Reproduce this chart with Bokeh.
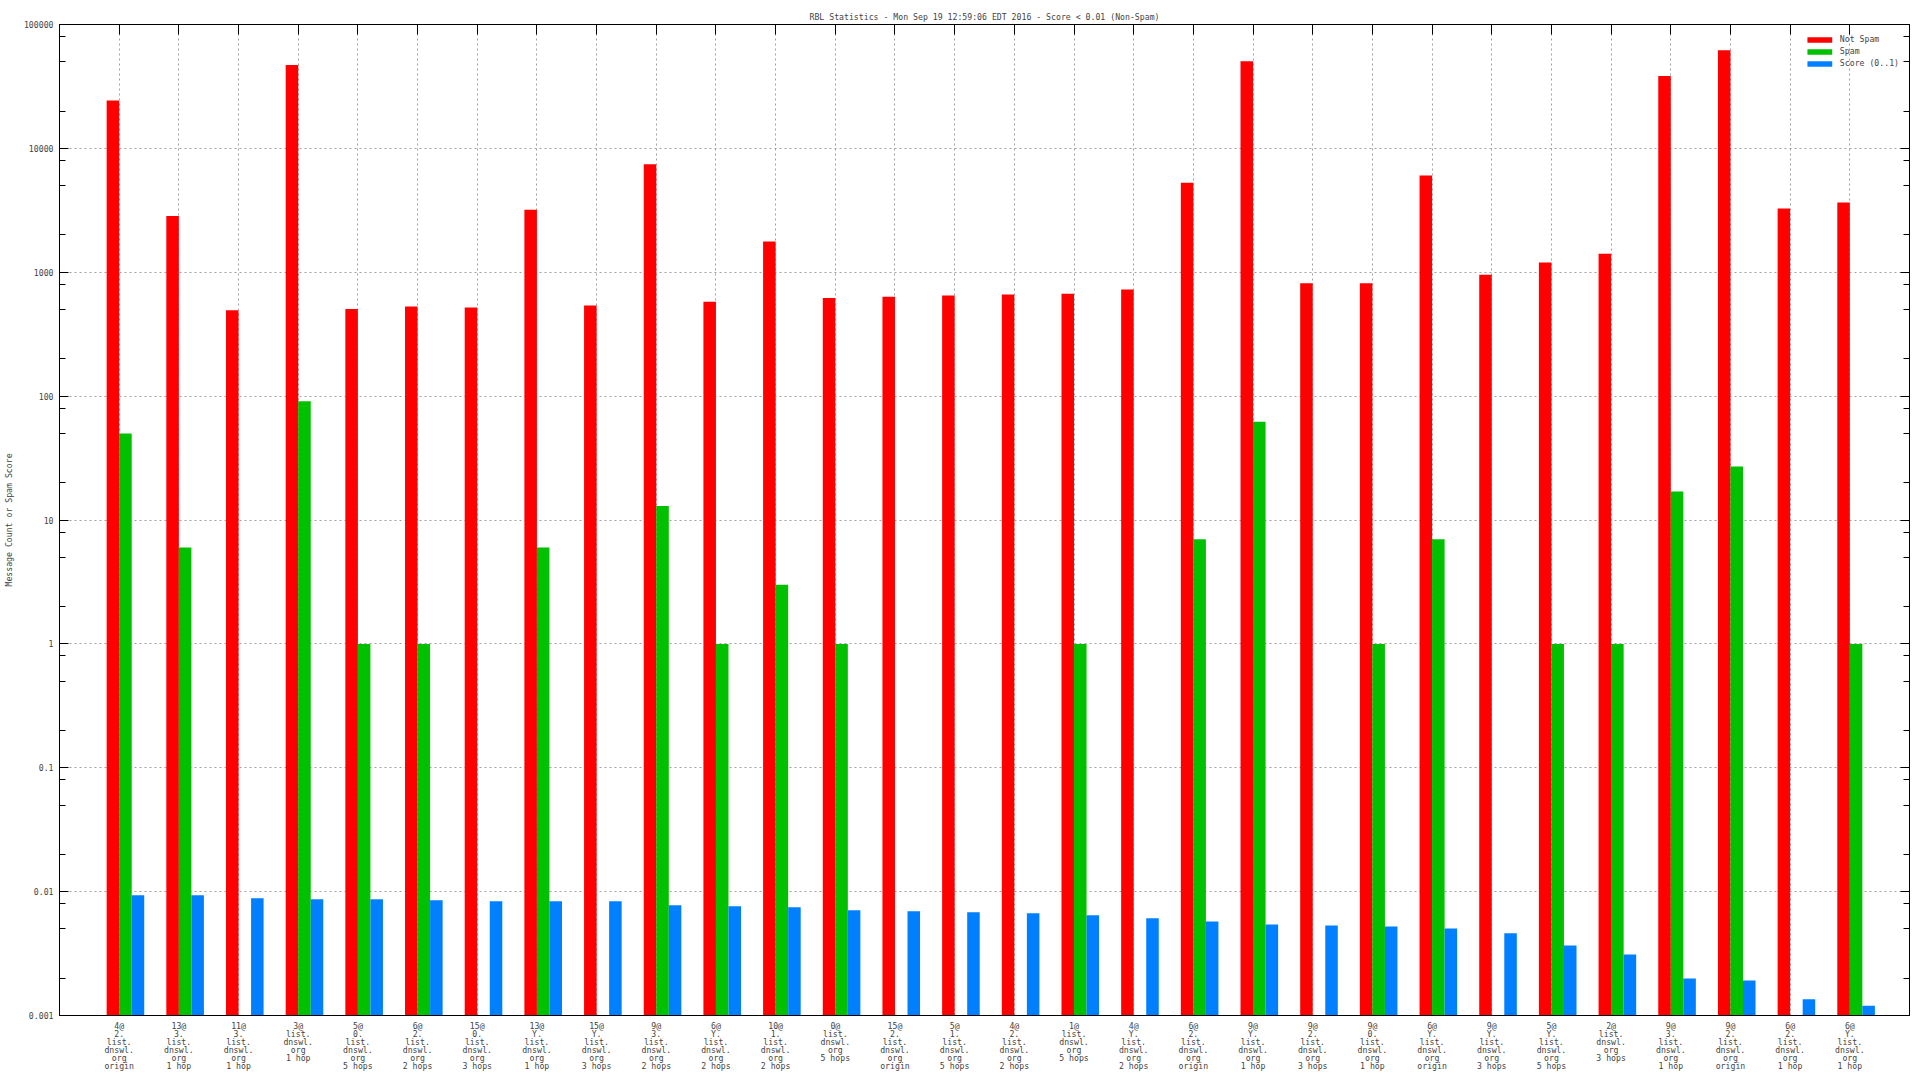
import numpy as np
from bokeh.plotting import figure
from bokeh.models import (ColumnDataSource, Range1d, FixedTicker, LinearAxis, LogAxis,
                          CustomJSTickFormatter, Legend, LegendItem)
from bokeh.transform import dodge
from bokeh.embed import file_html
from bokeh.resources import INLINE

# ---- data -------------------------------------------------------------
categories = [
    "4@\n2.\nlist.\ndnswl.\norg\norigin",
    "13@\n3.\nlist.\ndnswl.\norg\n1 hop",
    "11@\n3.\nlist.\ndnswl.\norg\n1 hop",
    "3@\nlist.\ndnswl.\norg\n1 hop",
    "5@\n0.\nlist.\ndnswl.\norg\n5 hops",
    "6@\n2.\nlist.\ndnswl.\norg\n2 hops",
    "15@\n0.\nlist.\ndnswl.\norg\n3 hops",
    "13@\nY.\nlist.\ndnswl.\norg\n1 hop",
    "15@\nY.\nlist.\ndnswl.\norg\n3 hops",
    "9@\n3.\nlist.\ndnswl.\norg\n2 hops",
    "6@\nY.\nlist.\ndnswl.\norg\n2 hops",
    "10@\n1.\nlist.\ndnswl.\norg\n2 hops",
    "0@\nlist.\ndnswl.\norg\n5 hops",
    "15@\n2.\nlist.\ndnswl.\norg\norigin",
    "5@\n1.\nlist.\ndnswl.\norg\n5 hops",
    "4@\n2.\nlist.\ndnswl.\norg\n2 hops",
    "1@\nlist.\ndnswl.\norg\n5 hops",
    "4@\nY.\nlist.\ndnswl.\norg\n2 hops",
    "6@\n2.\nlist.\ndnswl.\norg\norigin",
    "9@\nY.\nlist.\ndnswl.\norg\n1 hop",
    "9@\n2.\nlist.\ndnswl.\norg\n3 hops",
    "9@\n0.\nlist.\ndnswl.\norg\n1 hop",
    "6@\nY.\nlist.\ndnswl.\norg\norigin",
    "9@\nY.\nlist.\ndnswl.\norg\n3 hops",
    "5@\nY.\nlist.\ndnswl.\norg\n5 hops",
    "2@\nlist.\ndnswl.\norg\n3 hops",
    "9@\n3.\nlist.\ndnswl.\norg\n1 hop",
    "9@\n2.\nlist.\ndnswl.\norg\norigin",
    "6@\n2.\nlist.\ndnswl.\norg\n1 hop",
    "6@\nY.\nlist.\ndnswl.\norg\n1 hop",
]

not_spam = [24300, 2850, 493, 47100, 505, 528, 520, 3200, 540, 7430,
            578, 1770, 620, 634, 649, 660, 672, 727, 5280, 50400,
            815, 815, 6050, 955, 1200, 1410, 38400, 62000, 3270, 3660]

spam = [50, 6, 0, 91, 1, 1, 0, 6, 0, 13,
        1, 3, 1, 0, 0, 0, 1, 0, 7, 62,
        0, 1, 7, 0, 1, 1, 17, 27, 0, 1]

score = [0.00934, 0.00934, 0.00883, 0.00867, 0.00867, 0.00851, 0.00835, 0.00835, 0.00835, 0.00775,
         0.00761, 0.00747, 0.00706, 0.00693, 0.00681, 0.00668, 0.00644, 0.00609, 0.00575, 0.00544,
         0.00534, 0.00524, 0.00505, 0.00461, 0.00368, 0.00311, 0.00199, 0.00192, 0.00135, 0.00120]

series_names = ["Not Spam", "Spam", "Score (0..1)"]
series_colors = ["#ff0000", "#00c000", "#0080ff"]

y_major = [1e-3, 1e-2, 1e-1, 1e0, 1e1, 1e2, 1e3, 1e4, 1e5]

title = "RBL Statistics - Mon Sep 19 12:59:06 EDT 2016 - Score < 0.01 (Non-Spam)"
y_title = "Message Count or Spam Score"

# ---- build ------------------------------------------------------------
FONT = "DejaVu Sans Mono"
FS = "8.2px"
x_idx = list(range(len(categories)))

src = ColumnDataSource(dict(
    x=x_idx,
    notspam=not_spam,
    spam=[v if v > 0 else np.nan for v in spam],
    score=score,
))

p = figure(frame_width=1850, frame_height=991,
           y_axis_type="log",
           x_range=Range1d(-1, 30), y_range=Range1d(1e-3, 1e5),
           output_backend="svg", toolbar_location=None,
           min_border_left=55, min_border_right=14, min_border_top=24, min_border_bottom=64,
           title=title)
p.background_fill_color = "white"
p.border_fill_color = "white"
p.outline_line_color = "black"
p.outline_line_width = 1

p.title.text_font = FONT
p.title.text_font_size = FS
p.title.text_font_style = "normal"
p.title.align = "center"
p.title.standoff = 6
p.title.offset = 0

minor = [m * 10.0 ** e for e in range(-3, 5) for m in (2, 5, 8)]
yticker = FixedTicker(ticks=y_major, minor_ticks=minor)
xticker = FixedTicker(ticks=x_idx)

# bars
w = 0.21
r1 = p.vbar(x=dodge("x", -0.105), top="notspam", bottom=1e-3, width=w, source=src,
            fill_color=series_colors[0], line_color=None)
r2 = p.vbar(x=dodge("x", 0.105), top="spam", bottom=1e-3, width=w, source=src,
            fill_color=series_colors[1], line_color=None)
r3 = p.vbar(x=dodge("x", 0.315), top="score", bottom=1e-3, width=w, source=src,
            fill_color=series_colors[2], line_color=None)

# bottom x axis
xa = p.xaxis[0]
xa.ticker = xticker
xa.major_label_overrides = {i: c for i, c in zip(x_idx, categories)}
xa.major_label_text_font = FONT
xa.major_label_text_font_size = FS
xa.major_label_text_line_height = 0.8
xa.major_label_standoff = 5
xa.major_tick_in = 0
xa.major_tick_out = 0
xa.minor_tick_in = 0
xa.minor_tick_out = 0
xa.axis_line_color = "black"

# left y axis
ya = p.yaxis[0]
ya.ticker = yticker
ya.formatter = CustomJSTickFormatter(code="return String(Number(tick.toPrecision(6)))")
ya.major_label_text_font = FONT
ya.major_label_text_font_size = FS
ya.major_label_standoff = 6
ya.major_tick_in = 9
ya.major_tick_out = 0
ya.minor_tick_in = 6
ya.minor_tick_out = 0
ya.axis_label = y_title
ya.axis_label_text_font = FONT
ya.axis_label_text_font_size = FS
ya.axis_label_text_font_style = "normal"
ya.axis_label_standoff = 7

# mirrored axes (top and right), no labels
empty = CustomJSTickFormatter(code="return ''")
top_ax = LinearAxis(ticker=xticker, formatter=empty, major_tick_in=10, major_tick_out=0,
                    minor_tick_in=0, minor_tick_out=0, major_label_standoff=0,
                    major_label_text_font_size="0px")
p.add_layout(top_ax, "above")
right_ax = LogAxis(ticker=yticker, formatter=empty, major_tick_in=9, major_tick_out=0,
                   minor_tick_in=6, minor_tick_out=0, major_label_standoff=0,
                   major_label_text_font_size="0px")
p.add_layout(right_ax, "right")

# grids
p.xgrid.ticker = xticker
p.xgrid.grid_line_color = "#a0a0a0"
p.xgrid.grid_line_dash = "2 3"
p.ygrid.ticker = yticker
p.ygrid.grid_line_color = "#a0a0a0"
p.ygrid.grid_line_dash = "2 3"
p.ygrid.minor_grid_line_color = None

# legend
legend = Legend(items=[LegendItem(label=series_names[0], renderers=[r1]),
                       LegendItem(label=series_names[1], renderers=[r2]),
                       LegendItem(label=series_names[2], renderers=[r3])],
                location="top_right")
legend.label_text_font = FONT
legend.label_text_font_size = FS
legend.glyph_width = 31
legend.glyph_height = 7
legend.label_height = 7
legend.label_standoff = 5
legend.spacing = 2
legend.padding = 0
legend.margin = 10
legend.border_line_color = None
legend.background_fill_alpha = 0
p.add_layout(legend)

open("out.html", "w").write(file_html(p, INLINE))
